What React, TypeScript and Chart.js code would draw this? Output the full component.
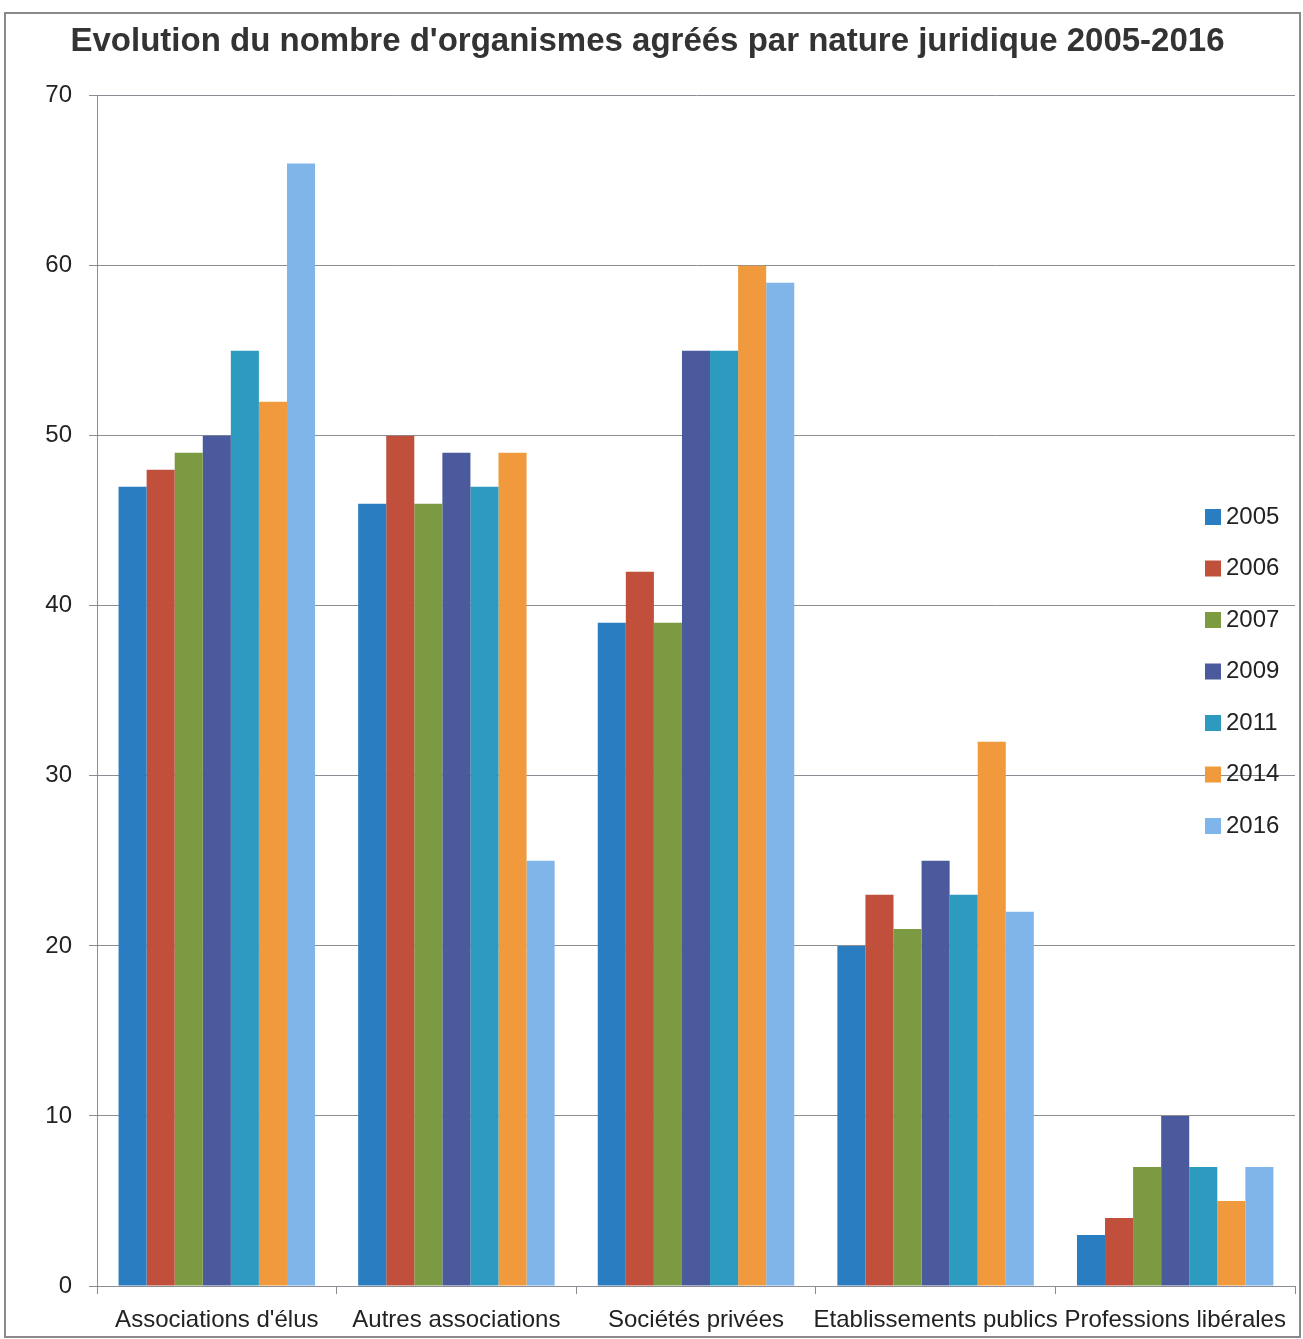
import React, { useEffect, useRef } from "react";
import { Chart, registerables } from "chart.js";

Chart.register(...registerables);

const categories = [
  "Associations d'élus",
  "Autres associations",
  "Sociétés privées",
  "Etablissements publics",
  "Professions libérales",
];
const years = ["2005", "2006", "2007", "2009", "2011", "2014", "2016"];
const v2005 = [47, 46, 39, 20, 3];
const v2006 = [48, 50, 42, 23, 4];
const v2007 = [49, 46, 39, 21, 7];
const v2009 = [50, 49, 55, 25, 10];
const v2011 = [55, 47, 55, 23, 7];
const v2014 = [52, 49, 60, 32, 5];
const v2016 = [66, 25, 59, 22, 7];
const seriesValues = [v2005, v2006, v2007, v2009, v2011, v2014, v2016];
const colors = ["#2b7dc2", "#c0503c", "#7b9a42", "#4b5a9d", "#2c9bbf", "#f09a3d", "#80b5e9"];
const yTicks = [0, 10, 20, 30, 40, 50, 60, 70];

const legendPlugin = {
  id: "sideLegend",
  afterDraw(chart: any, _args: any, opts: any) {
    const ctx = chart.ctx;
    ctx.save();
    ctx.font = `${opts.fontSize}px ${opts.family}`;
    ctx.textBaseline = "middle";
    ctx.textAlign = "left";
    chart.data.datasets.forEach((ds: any, i: number) => {
      const cy = opts.y + i * opts.spacing;
      ctx.fillStyle = ds.backgroundColor;
      ctx.fillRect(opts.x, cy - opts.box / 2, opts.box, opts.box);
      ctx.fillStyle = "#222";
      ctx.fillText(ds.label, opts.x + opts.box + 5, cy);
    });
    ctx.restore();
  },
};

const framePlugin = {
  id: "frame",
  afterDraw(chart: any, _args: any, opts: any) {
    const ctx = chart.ctx;
    ctx.save();
    ctx.strokeStyle = opts.color;
    ctx.lineWidth = opts.width;
    ctx.strokeRect(opts.left, opts.top, opts.right - opts.left, opts.bottom - opts.top);
    ctx.restore();
  },
};

export default function App() {
  const ref = useRef<HTMLCanvasElement>(null);
  useEffect(() => {
    if (!ref.current) return;
    const chart = new Chart(ref.current, {
      type: "bar",
      data: {
        labels: categories,
        datasets: years.map((y, i) => ({
          label: y,
          data: seriesValues[i],
          backgroundColor: colors[i],
          borderWidth: 0,
          barPercentage: 1,
          categoryPercentage: 0.82,
        })),
      },
      options: {
        responsive: false,
        animation: false,
        layout: { padding: { left: 0, right: 8, top: 0, bottom: 0 } },
        plugins: {
          legend: { display: false },
          tooltip: { enabled: false },
          title: {
            display: true,
            text: "Evolution du nombre d'organismes agréés par nature juridique 2005-2016",
            font: { family: "Liberation Sans", size: 33, weight: "bold" },
            color: "#333",
            padding: { top: 22, bottom: 34 },
          },
          sideLegend: { x: 1205, y: 517, spacing: 51.5, box: 16, fontSize: 24, family: "Liberation Sans" },
          frame: { left: 5, top: 13, right: 1300, bottom: 1337, color: "#8a8a8a", width: 2 },
        } as any,
        scales: {
          x: {
            grid: {
              offset: true,
              drawOnChartArea: false,
              drawTicks: true,
              tickLength: 8,
              color: "#8a8e94",
            },
            border: { color: "#8a8e94" },
            ticks: {
              autoSkip: false,
              maxRotation: 0,
              minRotation: 0,
              padding: 12,
              color: "#222",
              font: { family: "Liberation Sans", size: 24 },
            },
            afterFit(scale: any) {
              scale.height = 53;
            },
          },
          y: {
            min: 0,
            max: 70,
            afterBuildTicks(scale: any) {
              scale.ticks = yTicks.map((v) => ({ value: v }));
            },
            grid: { color: "#8a8e94", tickLength: 8 },
            border: { color: "#8a8e94" },
            ticks: {
              padding: 17,
              color: "#222",
              font: { family: "Liberation Sans", size: 24 },
            },
            afterFit(scale: any) {
              scale.width = 97;
            },
          },
        },
      },
      plugins: [legendPlugin, framePlugin],
    });
    return () => chart.destroy();
  }, []);
  return (
    <div style={{ position: "absolute", left: 0, top: 0, width: 1303, height: 1339, background: "#fff" }}>
      <canvas ref={ref} width={1303} height={1339} />
    </div>
  );
}
